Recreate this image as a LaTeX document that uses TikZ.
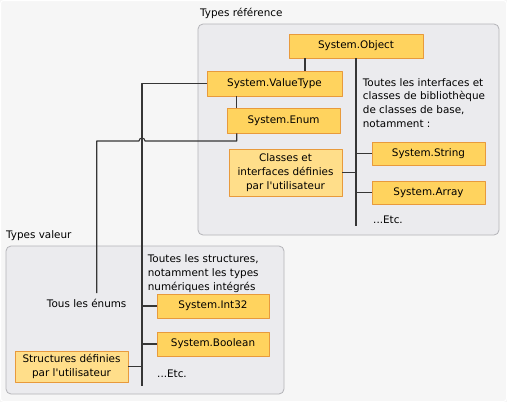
\documentclass[tikz,border=0pt]{standalone}
\usepackage{fontspec}
\setmainfont{DejaVu Sans}
\usetikzlibrary{shadows}
\definecolor{boite}{HTML}{FFD35E}
\definecolor{boiteclaire}{HTML}{FFDE8A}
\definecolor{bord}{HTML}{E89A3C}
\definecolor{groupe}{HTML}{EBEBEE}
\definecolor{bordgroupe}{HTML}{B4B4B8}
\definecolor{fond}{HTML}{F6F6F6}
\definecolor{trait}{HTML}{363636}
\tikzset{
	type/.style={draw=bord, fill=boite, line width=0.9pt, inner sep=0pt, minimum height=24pt,
		drop shadow={shadow xshift=1.2pt, shadow yshift=-1.2pt, opacity=0.25}},
	typeclair/.style={type, fill=boiteclaire, align=center},
	groupe/.style={draw=bordgroupe, fill=groupe, rounded corners=5pt, line width=0.8pt},
	lien/.style={draw=trait, line width=1.1pt},
	texte/.style={align=left, inner sep=0pt, anchor=north west}
}
\begin{document}
\begin{tikzpicture}[x=1pt, y=-1pt, font=\fontsize{10.4}{13.7}\selectfont, line join=round]
	% fond
	\fill[fond] (0,0) rectangle (507,402);
	\draw[white, line width=1pt, rounded corners=3pt] (0.5,0.5) rectangle (506.5,401.5);
	
	% Types référence
	\draw[groupe] (198,24) rectangle (499,235);
	\node[anchor=west, inner sep=0pt] (labref) at (200,13) {Types référence};
	\node[type, minimum width=134pt] (object) at (356,46) {System.Object};
	\node[type, minimum width=135pt, minimum height=25pt] (valuetype) at (274.5,83.5) {System.ValueType};
	\node[type, minimum width=113pt, minimum height=25pt] (enum) at (283.5,120.5) {System.Enum};
	\node[typeclair, minimum width=113pt, minimum height=47pt] (classes) at (285.5,172.5) {Classes et\\interfaces définies\\par l\textquotesingle{}utilisateur};
	\node[type, minimum width=113pt, minimum height=23pt] (string) at (428.5,153.5) {System.String};
	\node[type, minimum width=113pt, minimum height=23pt] (array) at (428.5,192.5) {System.Array};
	\node[texte] (interfaces) at (362.7,78) {Toutes les interfaces et\\classes de bibliothèque\\de classes de base,\\notamment :};
	\node[anchor=west, inner sep=0pt] (etcref) at (373,220) {...Etc.};
	\coordinate (basref) at (356,226);
	
	% Types valeur
	\draw[groupe] (6,246) rectangle (284,394);
	\node[anchor=west, inner sep=0pt] (labval) at (6,236) {Types valeur};
	\node[texte] (structs) at (147.7,254.5) {Toutes les structures,\\notamment les types\\numériques intégrés};
	\node[type, minimum width=112pt] (int32) at (213,306) {System.Int32};
	\node[type, minimum width=112pt] (boolean) at (213,344) {System.Boolean};
	\node[typeclair, minimum width=113pt, minimum height=31pt] (structures) at (71.5,366.5) {Structures définies\\par l\textquotesingle{}utilisateur};
	\node[inner sep=0pt] (enums) at (86.7,303) {Tous les énums};
	\node[anchor=west, inner sep=0pt] (etcval) at (157,374) {...Etc.};
	\coordinate (basval) at (142,386);
	\coordinate (finenum) at (96.7,293);
	
	% liens
	\draw[lien] (object.south) -- (basref);
	\draw[lien] (classes.east) -- (classes.east -| basref);
	\draw[lien] (string.west) -- (string.west -| basref);
	\draw[lien] (array.west) -- (array.west -| basref);
	\draw[lien] (305,0 |- object.south) -- (305,0 |- valuetype.north);
	\draw[lien] (236.7,0 |- valuetype.south) -- (236.7,0 |- enum.north);
	\draw[lien] (valuetype.west) -| (basval);
	\draw[lien] (int32.west) -- (int32.west -| basval);
	\draw[lien] (boolean.west) -- (boolean.west -| basval);
	\draw[lien] (structures.east) -- (structures.east -| basval);
	% saut au-dessus du trait vertical
	\draw[lien] (236.7,0 |- enum.south) |- (145,141) arc[start angle=0, end angle=-180, radius=3] -- (finenum |- 0,141) -- (finenum);
\end{tikzpicture}
\end{document}
